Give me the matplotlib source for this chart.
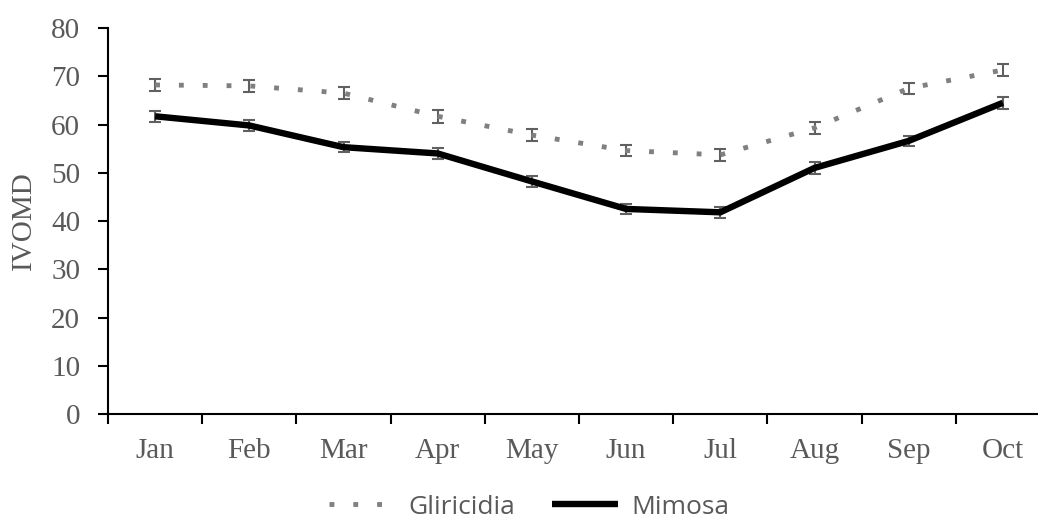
import matplotlib
matplotlib.use("Agg")
import matplotlib.pyplot as plt
import numpy as np

months = ["Jan", "Feb", "Mar", "Apr", "May", "Jun", "Jul", "Aug", "Sep", "Oct"]
gliricidia = [68.2, 68.0, 66.5, 61.7, 57.8, 54.6, 53.7, 59.3, 67.5, 71.3]
mimosa = [61.7, 59.8, 55.3, 54.0, 48.2, 42.5, 41.8, 51.0, 56.6, 64.5]
gliricidia_err = [1.2, 1.2, 1.3, 1.3, 1.3, 1.2, 1.3, 1.3, 1.2, 1.3]
mimosa_err = [1.2, 1.1, 1.1, 1.2, 1.2, 1.1, 1.1, 1.2, 1.1, 1.2]
yticks = [0, 10, 20, 30, 40, 50, 60, 70, 80]

serif = ["Liberation Serif", "DejaVu Serif"]
gray_text = "#595959"

fig = plt.figure(figsize=(10.38, 5.24), dpi=100)
ax = fig.add_axes([108 / 1038, 110 / 524, 942 / 1038, 386 / 524])

x = np.arange(len(months))
ax.errorbar(x, gliricidia, yerr=gliricidia_err, fmt="none", ecolor="#606060",
            elinewidth=1.5, capsize=4.5, capthick=1.5, zorder=2)
ax.errorbar(x, mimosa, yerr=mimosa_err, fmt="none", ecolor="#606060",
            elinewidth=1.5, capsize=4.5, capthick=1.5, zorder=2)
lg, = ax.plot(x, gliricidia, color="#808080", linewidth=3.5,
              linestyle=(0, (1, 3.9)), dash_capstyle="butt", label="Gliricidia", zorder=3)
lm, = ax.plot(x, mimosa, color="black", linewidth=4.6, solid_capstyle="butt",
              solid_joinstyle="miter", label="Mimosa", zorder=3)

ax.set_xlim(-0.5, 9.5)
ax.set_ylim(0, 80)
ax.set_yticks(yticks)
ax.set_yticklabels([str(v) for v in yticks])
ax.set_xticks(x)
ax.set_xticklabels(months)
ax.set_xticks(np.arange(-0.5, 10, 1.0), minor=True)
ax.tick_params(axis="x", which="major", length=0, pad=17)
ax.tick_params(axis="x", which="minor", length=7, width=1.5, direction="out", color="black")
ax.tick_params(axis="y", which="major", length=7, width=1.5, direction="out", color="black", pad=13)
for lab in ax.get_xticklabels() + ax.get_yticklabels():
    lab.set_fontfamily(serif)
    lab.set_fontsize(21)
    lab.set_color(gray_text)

for s in ["top", "right"]:
    ax.spines[s].set_visible(False)
for s in ["left", "bottom"]:
    ax.spines[s].set_linewidth(1.5)
    ax.spines[s].set_color("black")

ax.set_ylabel("IVOMD", fontfamily=serif, fontsize=21, color=gray_text, labelpad=10)

leg = fig.legend(handles=[lg, lm], loc="center", bbox_to_anchor=(0.51, 1 - 507 / 524),
                 ncol=2, frameon=False, handlelength=2.5, columnspacing=1.4,
                 handletextpad=0.5, prop={"family": ["Open Sans", "DejaVu Sans"], "size": 19})
for t in leg.get_texts():
    t.set_color(gray_text)

fig.savefig("out.png", dpi=100)
